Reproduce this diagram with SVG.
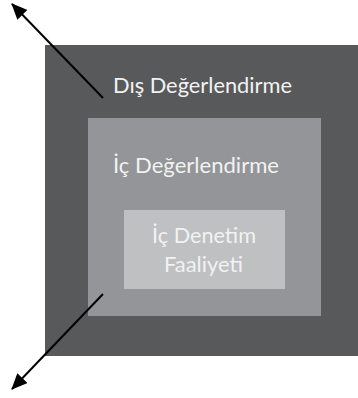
<svg xmlns="http://www.w3.org/2000/svg" width="358" height="398" viewBox="0 0 358 398">
  <style>
    .lbl { font-family: "Lato", "Open Sans", "Liberation Sans", sans-serif; font-size: 22px; fill: #f2f2f2; }
    .arrow { stroke: #000; stroke-width: 2; fill: none; marker-end: url(#head); }
  </style>
  <defs>
    <marker id="head" markerWidth="8" markerHeight="7" refX="7.5" refY="3.5" orient="auto" markerUnits="strokeWidth">
      <path d="M0,0 L8,3.5 L0,7 Z" fill="#000"/>
    </marker>
  </defs>
  <rect width="358" height="398" fill="#fff"/>

  <g id="dis-degerlendirme">
    <rect x="45" y="45" width="313" height="311" fill="#58595b"/>
    <text class="lbl" x="113" y="93" textLength="179" lengthAdjust="spacingAndGlyphs">Dış Değerlendirme</text>
  </g>

  <g id="ic-degerlendirme">
    <rect x="88" y="118" width="233" height="198" fill="#939598"/>
    <text class="lbl" x="113" y="173" textLength="166" lengthAdjust="spacingAndGlyphs">İç Değerlendirme</text>
  </g>

  <g id="ic-denetim-faaliyeti">
    <rect x="124" y="210" width="161" height="79" fill="#bfc0c2"/>
    <text class="lbl" x="152" y="243" textLength="104" lengthAdjust="spacingAndGlyphs">İç Denetim</text>
    <text class="lbl" x="164" y="272" textLength="79" lengthAdjust="spacingAndGlyphs">Faaliyeti</text>
  </g>

  <g id="connectors">
    <line class="arrow" x1="103" y1="98" x2="12" y2="4"/>
    <line class="arrow" x1="103" y1="294" x2="12" y2="389"/>
  </g>
</svg>
